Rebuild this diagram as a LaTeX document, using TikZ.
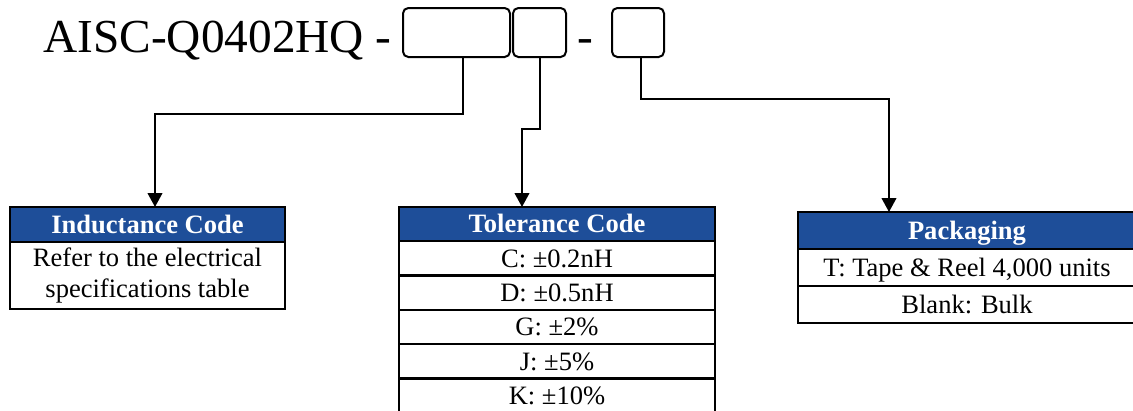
\documentclass[tikz,border=0pt]{standalone}
\usepackage{fontspec}
\setmainfont{Liberation Serif}
\usetikzlibrary{positioning,arrows.meta}
\definecolor{hdrblue}{RGB}{30,78,153}
\tikzset{
	codebox/.style={draw, line width=1.5pt, rounded corners=4pt, inner sep=0pt, outer sep=0pt, minimum height=36.75pt},
	link/.style={line width=1.5pt},
	linkarr/.style={link, -{Triangle[length=10.5pt,width=11pt]}},
	tblcell/.style={draw, line width=1.9pt, inner sep=0pt, outer sep=0pt, text height=17.2pt, text depth=4pt},
	tblhead/.style={tblcell, fill=hdrblue, text=white, font=\fontsize{19.9}{23.3}\selectfont\bfseries},
	tblrow/.style={tblcell, fill=white, font=\fontsize{19.9}{23.3}\selectfont}
}

\begin{document}
\begin{tikzpicture}[x=0.75pt,y=0.75pt,yscale=-1,xscale=1]
\useasboundingbox (0,0) rectangle (1133,411);

% part number
\node [anchor=base west, inner sep=0pt, font=\fontsize{35.5}{40}\selectfont] (title) at (43,52) {AISC-Q0402HQ -};
\node [codebox, minimum width=80.25pt] (box1) at (456.5,32.5) {};
\node [codebox, minimum width=39.75pt] (box2) at (539.5,32.5) {};
\node [anchor=base, inner sep=0pt, font=\fontsize{35.5}{40}\selectfont] (dash) at (585,52) {-};
\node [codebox, minimum width=39pt] (box3) at (638,32.5) {};

% inductance
\node [tblhead, minimum width=206.25pt, minimum height=26.25pt] (indhead) at (147.5,224.5) {Inductance Code};
\node [tblrow, minimum width=206.25pt, minimum height=50.25pt, align=center, text height=, text depth=, below=0pt of indhead] (indrow) {Refer to the electrical\\specifications table};

% tolerance
\node [tblhead, minimum width=237pt, minimum height=25.5pt] (tolhead) at (557,224) {Tolerance Code};
\node [tblrow, minimum width=237pt, minimum height=25.8pt, below=0pt of tolhead] (tolc) {C: ±0.2nH};
\node [tblrow, minimum width=237pt, minimum height=25.8pt, below=0pt of tolc] (told) {D: ±0.5nH};
\node [tblrow, minimum width=237pt, minimum height=25.8pt, below=0pt of told] (tolg) {G: ±2\%};
\node [tblrow, minimum width=237pt, minimum height=25.8pt, below=0pt of tolg] (tolj) {J: ±5\%};
\node [tblrow, minimum width=237pt, minimum height=25.8pt, below=0pt of tolj] (tolk) {K: ±10\%};

% packaging
\node [tblhead, minimum width=253.5pt, minimum height=27.75pt] (packhead) at (967,230.5) {Packaging};
\node [tblrow, minimum width=253.5pt, minimum height=27.75pt, below=0pt of packhead] (packt) {T: Tape \& Reel 4,000 units};
\node [tblrow, minimum width=253.5pt, minimum height=27.75pt, below=0pt of packt] (packb) {Blank: Bulk};

\draw [linkarr] ([shift={(6.5,0)}]box1.south) -- ++(0,57) -| ([shift={(7.5,0)}]indhead.north);
\draw [linkarr] (box2.south) -- ++(0,72) -| ([shift={(-35,0)}]tolhead.north);
\draw [linkarr] ([shift={(3,0)}]box3.south) -- ++(0,42) -| ([shift={(-78,0)}]packhead.north);

\end{tikzpicture}
\end{document}
